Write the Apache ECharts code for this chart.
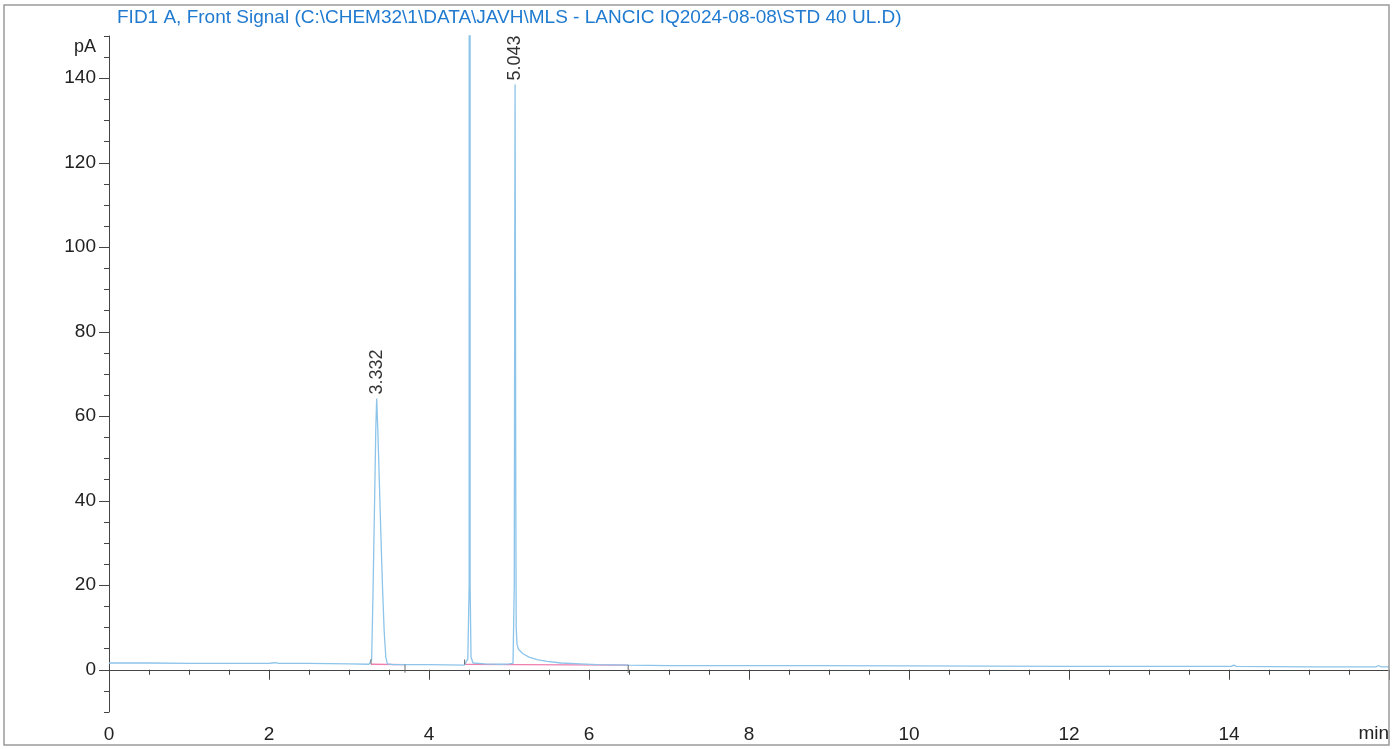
<!DOCTYPE html>
<html>
<head>
<meta charset="utf-8">
<script src="https://cdn.jsdelivr.net/npm/echarts@6/dist/echarts.min.js"></script>
<style>
html,body{margin:0;padding:0;background:#fff;}
#chart{width:1399px;height:749px;}
</style>
</head>
<body>
<div id="chart"></div>
<script>
// ---- data (time in min, signal in pA) ----
const titleText = 'FID1 A, Front Signal (C:\\CHEM32\\1\\DATA\\JAVH\\MLS - LANCIC IQ2024-08-08\\STD 40 UL.D)';
const yLabelValues = [0, 20, 40, 60, 80, 100, 120, 140];
const xLabelValues = [0, 2, 4, 6, 8, 10, 12, 14];

const signal = [
  [0.0, 1.6], [0.5, 1.6], [1.0, 1.5], [1.5, 1.5], [2.0, 1.5], [2.04, 1.6], [2.06, 2.0], [2.08, 1.7],
  [2.12, 1.5], [2.5, 1.5], [3.0, 1.4], [3.25, 1.3],
  // peak 3.332
  [3.27, 1.3], [3.283, 2.5], [3.30, 18], [3.32, 40], [3.335, 57], [3.346, 64.2], [3.36, 57],
  [3.38, 44], [3.40, 31], [3.42, 19], [3.44, 9], [3.46, 3], [3.48, 1.4], [3.55, 1.2], [4.0, 1.2], [4.44, 1.1],
  // off-scale peak ~4.51
  [4.46, 1.2], [4.485, 2.5], [4.502, 20], [4.508, 3000], [4.514, 20], [4.525, 3], [4.55, 1.6],
  [4.7, 1.4], [4.9, 1.3], [5.0, 1.4],
  // peak 5.043
  [5.05, 1.5], [5.066, 20], [5.072, 100], [5.076, 138.5], [5.08, 100], [5.085, 40], [5.09, 10], [5.10, 6],
  [5.12, 4.8], [5.175, 3.8], [5.25, 3.0], [5.35, 2.4], [5.475, 2.0], [5.65, 1.6], [5.89, 1.4], [6.1, 1.2],
  [6.5, 1.1], [7.0, 1.0], [8.0, 1.0], [8.78, 1.0], [8.8, 1.3], [8.82, 1.0], [10.0, 0.9], [12.0, 0.8],
  [14.03, 0.8], [14.06, 1.1], [14.09, 0.8], [15.0, 0.7], [15.84, 0.7], [15.87, 1.0], [15.9, 0.7], [16.0, 0.7]
];

const baseline1 = [[3.275, 1.3], [3.70, 1.2]];
const baseline2 = [[4.445, 1.25], [6.49, 1.1]];

const peakLabels = [[3.346, 64.2, '3.332'], [5.076, 138.5, '5.043']];

// ---- chart ----
const FONT = '"Liberation Sans", Arial, sans-serif';
const baselineMarks = [
  [baseline1[0][0], baseline1[0][1], 0], [baseline1[1][0], baseline1[1][1], 1],
  [baseline2[0][0], baseline2[0][1], 0], [baseline2[1][0], baseline2[1][1], 1]
];

const chart = echarts.init(document.getElementById('chart'), null, {renderer: 'canvas'});
chart.setOption({
  animation: false,
  backgroundColor: '#ffffff',
  title: {
    text: titleText, left: 117, top: 8, padding: 0,
    textStyle: {color: '#1f7ad0', fontSize: 19, fontWeight: 'normal', fontFamily: FONT}
  },
  grid: {left: 109, right: 10, top: 36, bottom: 37, containLabel: false},
  xAxis: {
    type: 'value', min: 0, max: 16, interval: 2,
    axisLine: {show: true, lineStyle: {color: '#444', width: 1}},
    axisTick: {show: true, length: 10, lineStyle: {color: '#444'}},
    minorTick: {show: true, splitNumber: 4, length: 5, lineStyle: {color: '#444'}},
    splitLine: {show: false},
    axisLabel: {
      color: '#222', fontSize: 19, fontFamily: FONT, margin: 13,
      formatter: v => (xLabelValues.indexOf(v) >= 0 ? String(v) : '')
    }
  },
  yAxis: [{
    type: 'value', min: -10, max: 150, interval: 5, position: 'left',
    axisLine: {show: true, lineStyle: {color: '#444', width: 1}},
    axisTick: {show: true, length: 5, lineStyle: {color: '#444'}},
    splitLine: {show: false},
    axisLabel: {
      color: '#222', fontSize: 19, fontFamily: FONT, margin: 13,
      formatter: v => (yLabelValues.indexOf(v) >= 0 ? String(v) : '')
    }
  }, {
    type: 'value', min: -10, max: 150, position: 'left', offset: 0,
    axisLine: {show: false},
    axisTick: {show: true, length: 10, customValues: yLabelValues, lineStyle: {color: '#444'}},
    axisLabel: {show: false},
    splitLine: {show: false}
  }],
  graphic: [
    {type: 'rect', shape: {x: 4, y: 5, width: 1385, height: 740}, style: {fill: 'none', stroke: '#9a9a9a', lineWidth: 1.5}, z: 100},
    {type: 'text', x: 96, y: 47, style: {text: 'pA', fill: '#222', font: '18px ' + FONT, textAlign: 'right', textVerticalAlign: 'middle'}},
    {type: 'text', x: 1389, y: 724, style: {text: 'min', fill: '#222', font: '19px ' + FONT, textAlign: 'right', textVerticalAlign: 'top'}}
  ],
  series: [
    {
      type: 'line', name: 'baseline1', data: baseline1, symbol: 'none', yAxisIndex: 0,
      lineStyle: {color: '#f07fae', width: 1.3}, z: 3
    },
    {
      type: 'line', name: 'baseline2', data: baseline2, symbol: 'none', yAxisIndex: 0,
      lineStyle: {color: '#f07fae', width: 1.3}, z: 3
    },
    {
      type: 'line', name: 'FID1 A', data: signal, symbol: 'none', yAxisIndex: 0, clip: true,
      lineStyle: {color: '#8cc4ea', width: 1.3}, z: 4
    },
    {
      type: 'custom', name: 'baselineTicks', data: baselineMarks, yAxisIndex: 0, z: 5,
      renderItem: function (params, api) {
        const p = api.coord([api.value(0), api.value(1)]);
        const isEnd = api.value(2) === 1;
        return {
          type: 'line',
          shape: isEnd ? {x1: p[0], y1: p[1], x2: p[0], y2: p[1] + 8} : {x1: p[0], y1: p[1], x2: p[0], y2: p[1] - 5},
          style: {stroke: '#666', lineWidth: 1}
        };
      }
    },
    {
      type: 'custom', name: 'peakLabels', data: peakLabels, yAxisIndex: 0, z: 6,
      renderItem: function (params, api) {
        const p = api.coord([api.value(0), api.value(1)]);
        return {
          type: 'text', x: p[0], y: p[1] - 4, rotation: Math.PI / 2,
          style: {text: peakLabels[params.dataIndex][2], fill: '#333', font: '18px ' + FONT, textAlign: 'left', textVerticalAlign: 'middle'}
        };
      }
    }
  ]
});
</script>
</body>
</html>
